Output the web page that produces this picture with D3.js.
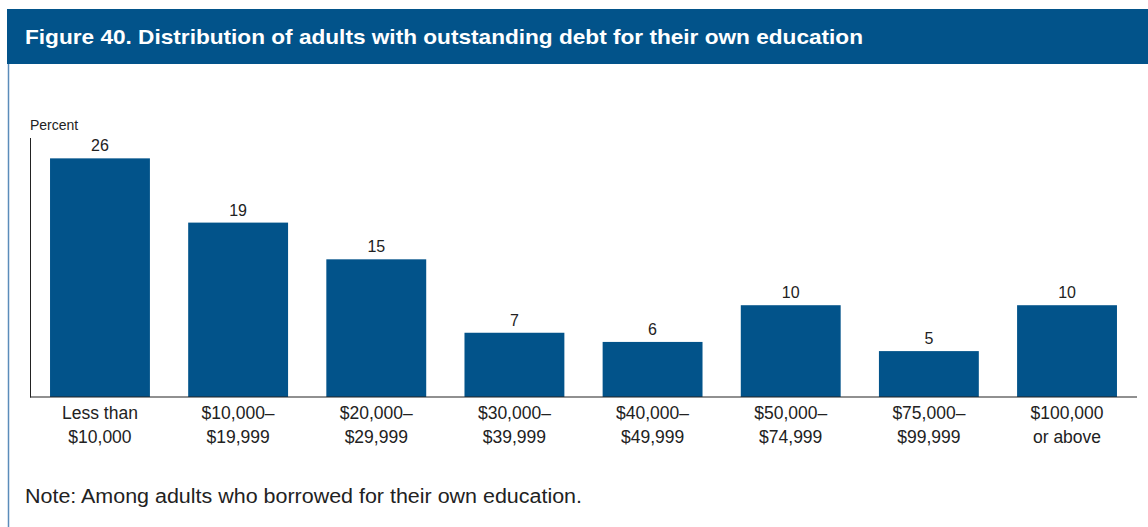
<!DOCTYPE html>
<html>
<head>
<meta charset="utf-8">
<script src="https://cdn.jsdelivr.net/npm/d3@7"></script>
<style>
  html, body { margin: 0; padding: 0; background: #fff; }
  svg { display: block; }
</style>
</head>
<body>
<svg id="chart" width="1148" height="527"></svg>
<script>
const categories = [
  ["Less than", "$10,000"],
  ["$10,000–", "$19,999"],
  ["$20,000–", "$29,999"],
  ["$30,000–", "$39,999"],
  ["$40,000–", "$49,999"],
  ["$50,000–", "$74,999"],
  ["$75,000–", "$99,999"],
  ["$100,000", "or above"]
];
const values = [26, 19, 15, 7, 6, 10, 5, 10];
const titleText = "Figure 40. Distribution of adults with outstanding debt for their own education";
const yLabel = "Percent";
const noteText = "Note: Among adults who borrowed for their own education.";

const svg = d3.select("#chart");
const blue = "#02538A";
const font = "'Liberation Sans', Arial, sans-serif";

// header band
svg.append("rect").attr("x", 7).attr("y", 9).attr("width", 1141).attr("height", 55).attr("fill", blue);
svg.append("text").attr("x", 25).attr("y", 44)
  .attr("fill", "#fff").attr("font-family", font).attr("font-weight", "bold")
  .attr("font-size", 20.5).attr("textLength", 838).attr("lengthAdjust", "spacingAndGlyphs")
  .text(titleText);

// left border line
svg.append("line").attr("x1", 8.5).attr("x2", 8.5).attr("y1", 64).attr("y2", 527)
  .attr("stroke", "#5b8cba").attr("stroke-width", 1.5);

const keys = categories.map((d, i) => i);
const x = d3.scaleBand().domain(keys).range([30, 1137]).paddingInner(0.277).paddingOuter(0.145);
const y = d3.scaleLinear().domain([0, 28]).range([397, 140]);

// bars
svg.append("g").selectAll("rect").data(values).join("rect")
  .attr("x", (d, i) => x(i)).attr("y", d => y(d))
  .attr("width", x.bandwidth()).attr("height", d => y(0) - y(d))
  .attr("fill", blue);

// value labels
svg.append("g").selectAll("text").data(values).join("text")
  .attr("x", (d, i) => x(i) + x.bandwidth() / 2).attr("y", d => y(d) - 7)
  .attr("text-anchor", "middle").attr("font-family", font).attr("font-size", 16)
  .attr("fill", "#222").text(d => d);

// axes lines
svg.append("line").attr("x1", 30.5).attr("x2", 30.5).attr("y1", 138).attr("y2", 397.5)
  .attr("stroke", "#222").attr("stroke-width", 1);
svg.append("line").attr("x1", 30).attr("x2", 1137).attr("y1", 397).attr("y2", 397)
  .attr("stroke", "#222").attr("stroke-width", 1.2);

// category labels
const cl = svg.append("g").selectAll("text").data(categories).join("text")
  .attr("x", (d, i) => x(i) + x.bandwidth() / 2)
  .attr("text-anchor", "middle").attr("font-family", font).attr("font-size", 17.5).attr("fill", "#222");
cl.append("tspan").attr("x", (d, i) => x(i) + x.bandwidth() / 2).attr("y", 419).text(d => d[0]);
cl.append("tspan").attr("x", (d, i) => x(i) + x.bandwidth() / 2).attr("y", 443).text(d => d[1]);

// y label
svg.append("text").attr("x", 30).attr("y", 130).attr("font-family", font).attr("font-size", 14)
  .attr("fill", "#222").text(yLabel);

// note
svg.append("text").attr("x", 25).attr("y", 503).attr("font-family", font).attr("font-size", 19.5)
  .attr("textLength", 557).attr("lengthAdjust", "spacingAndGlyphs")
  .attr("fill", "#222").text(noteText);
</script>
</body>
</html>
